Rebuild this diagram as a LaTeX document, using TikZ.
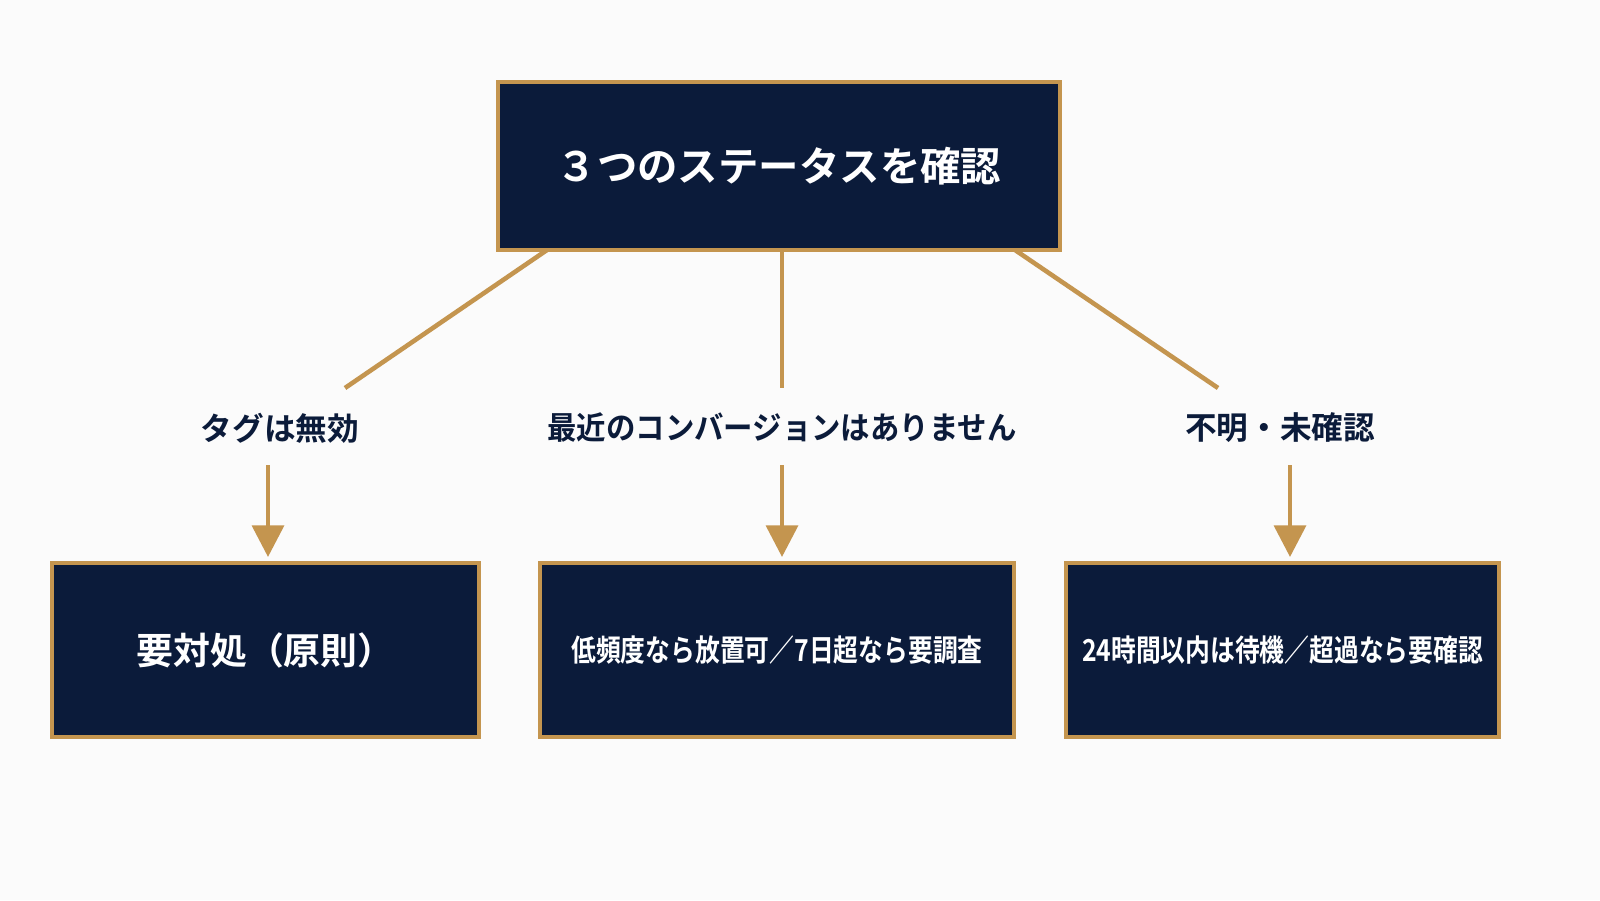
\documentclass[tikz,border=0pt]{standalone}
\usepackage{graphicx}
\usepackage{fontspec}
\setmainfont{Noto Sans CJK JP}[BoldFont={* Bold}]
\usetikzlibrary{arrows.meta}
\definecolor{navy}{HTML}{0B1B3A}
\definecolor{gold}{HTML}{C4954F}
\begin{document}
\begin{tikzpicture}[
  box/.style={draw=gold,line width=1.2pt,fill=navy,text=white,font=\bfseries,inner sep=0pt},
  lbl/.style={text=navy,font=\bfseries\fontsize{9}{11}\selectfont},
  ln/.style={draw=gold,line width=1.3pt},
  arr/.style={ln,-{Triangle[width=9pt,length=9pt]}}]
\useasboundingbox (0,0) rectangle (16,9);
\fill[white!97!gray] (0,0) rectangle (16,9);
\node[box,minimum width=5.62cm,minimum height=1.68cm,font=\bfseries\fontsize{11.5}{14}\selectfont] (top) at (7.79,7.34) {３つのステータスを確認};
\node[box,minimum width=4.27cm,minimum height=1.74cm,font=\bfseries\fontsize{10.5}{13}\selectfont] (b1) at (2.655,2.5) {要対処（原則）};
\node[box,minimum width=4.74cm,minimum height=1.74cm,font=\bfseries\fontsize{8.6}{11}\selectfont] (b2) at (7.77,2.5) {\scalebox{0.82}[1]{低頻度なら放置可／7日超なら要調査}};
\node[box,minimum width=4.33cm,minimum height=1.74cm,font=\bfseries\fontsize{8.6}{11}\selectfont] (b3) at (12.825,2.5) {\scalebox{0.82}[1]{24時間以内は待機／超過なら要確認}};
\node[lbl] (l1) at (2.8,4.72) {タグは無効};
\node[lbl] (l2) at (7.82,4.72) {\scalebox{0.93}[1]{最近のコンバージョンはありません}};
\node[lbl] (l3) at (12.8,4.72) {不明・未確認};
\coordinate (t1) at (5.47,6.5); \coordinate (t2) at (7.82,6.5); \coordinate (t3) at (10.15,6.5);
\coordinate (e1) at (3.45,5.12); \coordinate (e2) at (7.82,5.12); \coordinate (e3) at (12.18,5.12);
\draw[ln] (t1) -- (e1); \draw[ln] (t2) -- (e2); \draw[ln] (t3) -- (e3);
\coordinate (s1) at (2.68,4.35); \coordinate (s2) at (7.82,4.35); \coordinate (s3) at (12.9,4.35);
\draw[arr] (s1) -- (2.68,3.43); \draw[arr] (s2) -- (7.82,3.43); \draw[arr] (s3) -- (12.9,3.43);
\end{tikzpicture}
\end{document}
